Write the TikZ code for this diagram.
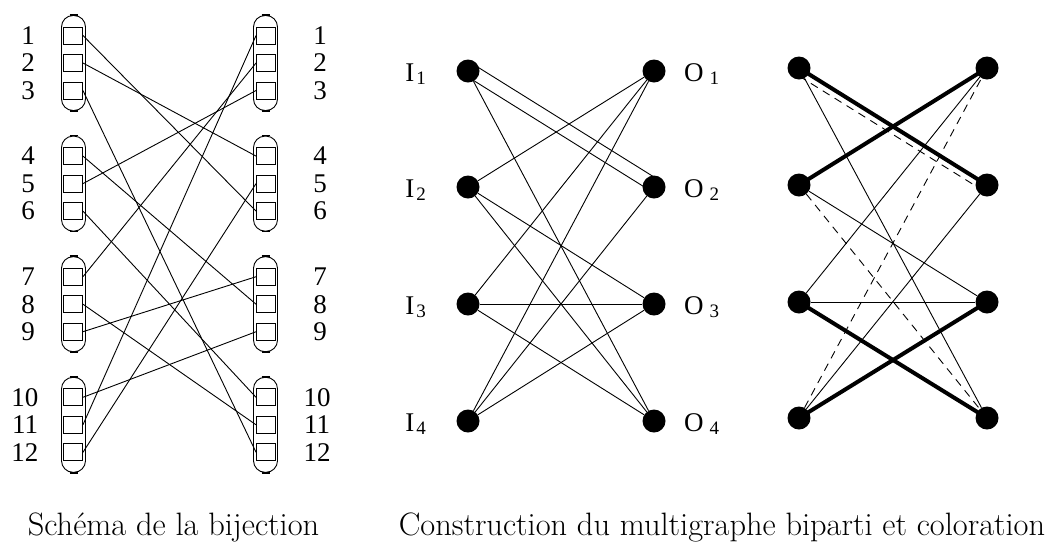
\documentclass[tikz,border=0pt]{standalone}
\usepackage{fontspec}
\newfontfamily\timesf{Liberation Serif}
\newcommand{\ilab}[1]{{\fontsize{27}{27}\selectfont\timesf I\hspace{2pt}\raisebox{-3pt}{\fontsize{19}{19}\selectfont #1}}}
\newcommand{\olab}[1]{{\fontsize{27}{27}\selectfont\timesf O\hspace{6pt}\raisebox{-3pt}{\fontsize{19}{19}\selectfont #1}}}

\begin{document}
\begin{tikzpicture}[x=1pt,y=-1pt,
    slot/.style={draw,minimum width=19pt,minimum height=17pt,inner sep=0pt,line width=0.9pt},
    grp/.style={draw,rounded corners=11.5pt,minimum width=24pt,minimum height=95pt,inner sep=0pt,line width=0.9pt},
    num/.style={inner sep=0pt,font=\fontsize{27}{27}\selectfont\timesf},
    vtx/.style={circle,fill,minimum size=23pt,inner sep=0pt},
    fine/.style={line width=0.9pt},
    heavy/.style={line width=4pt},
    dashedge/.style={line width=0.9pt,dash pattern=on 8pt off 6pt},
    captxt/.style={inner sep=0pt,font=\fontsize{32.4}{38}\selectfont}]
    \useasboundingbox (0,0) rectangle (1052,542);

    % schema de la bijection
    \foreach \g in {0,...,3} {
        \pgfmathsetmacro\ym{63+120.6*\g}
        \node[grp] (gl\g) at (73.5,\ym) {};
        \node[grp] (gr\g) at (265.5,\ym) {};
        \draw[line width=1.6pt] ([xshift=-4pt]gl\g.north) -- ([xshift=4pt]gl\g.north);
        \draw[line width=1.6pt] ([xshift=-4pt]gl\g.south) -- ([xshift=4pt]gl\g.south);
        \draw[line width=1.6pt] ([xshift=-4pt]gr\g.north) -- ([xshift=4pt]gr\g.north);
        \draw[line width=1.6pt] ([xshift=-4pt]gr\g.south) -- ([xshift=4pt]gr\g.south);
        \foreach \s in {1,2,3} {
            \pgfmathtruncatemacro\k{3*\g+\s}
            \pgfmathsetmacro\yy{\ym+27.5*(\s-2)}
            \pgfmathsetmacro\xl{\k<10 ? 28 : 25}
            \pgfmathsetmacro\xr{\k<10 ? 320 : 317}
            \node[slot] (l\k) at (73,\yy) {};
            \node[slot] (r\k) at (266,\yy) {};
            \node[num] (nl\k) at (\xl,\yy) {\k};
            \node[num] (nr\k) at (\xr,\yy) {\k};
        }
    }
    \draw[fine] (l1.east) -- (r6.west);
    \draw[fine] (l2.east) -- (r4.west);
    \draw[fine] (l3.east) -- (r12.west);
    \draw[fine] (l4.east) -- (r8.west);
    \draw[fine] (l5.east) -- (r3.west);
    \draw[fine] (l6.east) -- (r10.west);
    \draw[fine] (l7.east) -- (r2.west);
    \draw[fine] (l8.east) -- (r11.west);
    \draw[fine] (l9.east) -- (r7.west);
    \draw[fine] (l10.east) -- (r9.west);
    \draw[fine] (l11.east) -- (r1.west);
    \draw[fine] (l12.east) -- (r5.west);

    % multigraphe biparti
    \foreach \k/\y in {1/71,2/187,3/304,4/421} {
        \node[vtx] (i\k) at (468,\y) {};
        \node[vtx] (o\k) at (654,\y) {};
        \node[anchor=base east,inner sep=0pt] (li\k) at (426,\y+10.5) {\ilab{\k}};
        \node[anchor=base west,inner sep=0pt] (lo\k) at (684,\y+10.5) {\olab{\k}};
    }
    \draw[fine] ([yshift=10pt]i1.center) -- ([yshift=10pt]o2.center);
    \draw[fine] ([yshift=-6pt]i1.center) -- ([yshift=-6pt]o2.center);
    \draw[fine] (i1) -- (o4);
    \draw[fine] (i2) -- (o1);
    \draw[fine] (i2) -- (o3);
    \draw[fine] (i2) -- (o4);
    \draw[fine] (i3) -- (o1);
    \draw[fine] (i3) -- (o3);
    \draw[fine] (i3) -- (o4);
    \draw[fine] (i4) -- (o1);
    \draw[fine] (i4) -- (o2);
    \draw[fine] (i4) -- (o3);

    % coloration
    \foreach \k/\y in {1/68,2/185,3/302,4/418} {
        \node[vtx] (a\k) at (799,\y) {};
        \node[vtx] (b\k) at (987,\y) {};
    }
    \draw[heavy] (a1.center) -- (b2.center);
    \draw[heavy] (a2.center) -- (b1.center);
    \draw[heavy] (a3.center) -- (b4.center);
    \draw[heavy] (a4.center) -- (b3.center);
    \draw[dashedge] ([yshift=-8pt]a1.center) -- ([yshift=-8pt]b2.center);
    \draw[dashedge] (a2) -- (b4);
    \draw[dashedge] (a4) -- (b1);
    \draw[fine] (a1) -- (b4);
    \draw[fine] (a2) -- (b3);
    \draw[fine] (a3) -- (b1);
    \draw[fine] (a3) -- (b3);
    \draw[fine] (a4) -- (b2);

    \node[captxt,anchor=base] (capl) at (173.5,535) {Schéma de la bijection};
    \node[captxt,anchor=base] (capr) at (722,535) {Construction du multigraphe biparti et coloration};
\end{tikzpicture}
\end{document}
